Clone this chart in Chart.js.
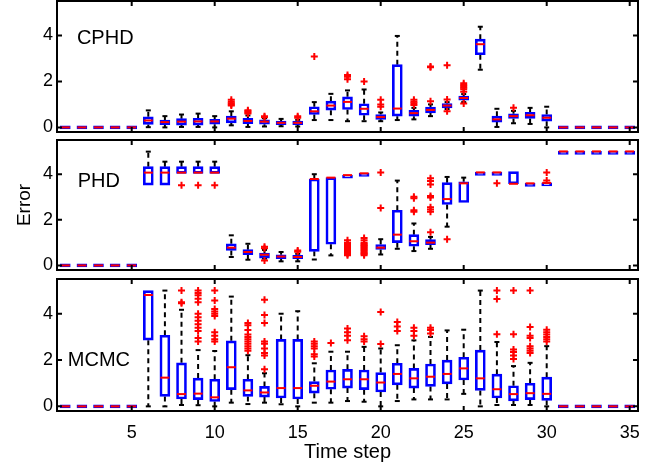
<!DOCTYPE html>
<html>
<head>
<meta charset="utf-8">
<script src="https://cdn.jsdelivr.net/npm/chart.js@4.4.0/dist/chart.umd.min.js"></script>
<style>
body { margin: 0; background: #fff; }
#wrap { position: relative; width: 658px; height: 467px; overflow: hidden; }
canvas { position: absolute; left: 0; top: 0; }
#cphd { top: -10px; }
</style>
</head>
<body>
<div id="wrap">
<canvas id="cphd" width="658" height="467"></canvas>
<canvas id="phd" width="658" height="467"></canvas>
<canvas id="mcmc" width="658" height="467"></canvas>
</div>
<script>
// time steps 1..35 and tick labels
const steps = Array.from({length: 35}, (_, i) => i + 1);
const xTicks = [5, 10, 15, 20, 25, 30, 35];
const yTicks = [0, 2, 4];

// CPHD box stats (lower whisker, q1, median, q3, upper whisker)
const cphdLo  = [0,0,0,0,0, 0.01,0,0.02,0.02,0,0.09,0.02,0.04,0.05,0.04,0.32,0.32,0.27,0.27,0.27,0.32,0.35,0.49,0.8,1.1,2.51,0.02,0.18,0.15,0, 0,0,0,0,0];
const cphdQ1  = [0,0,0,0,0, 0.13,0.12,0.1,0.1,0.14,0.2,0.16,0.14,0.12,0.12,0.56,0.75,0.78,0.53,0.35,0.49,0.49,0.63,0.85,1.18,3.16,0.23,0.39,0.39,0.27, 0,0,0,0,0];
const cphdMed = [0,0,0,0,0, 0.3,0.23,0.25,0.26,0.26,0.38,0.28,0.25,0.2,0.2,0.7,0.95,1.11,0.81,0.45,0.82,0.62,0.76,0.95,1.28,3.62,0.35,0.49,0.53,0.42, 0,0,0,0,0];
const cphdQ3  = [0,0,0,0,0, 0.46,0.32,0.38,0.4,0.35,0.49,0.39,0.33,0.28,0.28,0.9,1.14,1.33,1.03,0.56,2.73,0.74,0.88,1.04,1.36,3.84,0.49,0.59,0.66,0.56, 0,0,0,0,0];
const cphdHi  = [0,0,0,0,0, 0.74,0.49,0.56,0.6,0.49,0.7,0.52,0.4,0.37,0.33,1.1,1.46,1.61,1.65,0.65,3.98,0.85,1.0,1.1,1.45,4.38,0.81,0.72,0.85,0.9, 0,0,0,0,0];
const cphdOut = [[11,1.2],[11,1.12],[11,1.05],[11,1.0],[11,0.95],[12,0.75],[12,0.7],[12,0.65],[12,0.6],
  [13,0.49],[13,0.44],[15,0.48],[15,0.42],[16,3.08],[18,2.28],[18,2.2],[18,2.1],[19,2.0],
  [20,1.2],[20,1.0],[20,0.9],[22,1.2],[22,1.12],[22,1.05],[22,0.98],[23,2.65],[23,2.62],[23,1.14],
  [24,2.7],[24,1.21],[24,0.7],[25,1.92],[25,1.85],[25,1.78],[25,1.72],[25,1.66],[25,1.55],[25,1.04],[28,0.85]];

// PHD box stats
const phdLo  = [0,0,0,0,0, 3.52,3.52,4.04,4.04,4.04,0.37,0.25,0.3,0.18,0.18,0.26,0.44,3.96,4.04,0.48,0.73,0.63,0.73,1.7,2.76,4.08,4.08,3.58,3.6,3.62, 5,5,5,5,5];
const phdQ1  = [0,0,0,0,0, 3.52,3.52,4.04,4.04,4.04,0.66,0.47,0.32,0.3,0.3,0.62,0.93,3.96,4.04,0.7,1.0,0.84,0.91,2.67,2.76,4.08,4.08,3.58,3.6,3.62, 5,5,5,5,5];
const phdMed = [0,0,0,0,0, 4.07,4.07,4.07,4.07,4.07,0.78,0.59,0.47,0.39,0.37,3.79,3.85,3.96,4.04,0.78,1.35,1.06,1.0,2.91,3.6,4.08,4.08,3.58,3.6,3.62, 5,5,5,5,5];
const phdQ3  = [0,0,0,0,0, 4.33,4.33,4.33,4.33,4.33,0.95,0.69,0.54,0.47,0.44,3.79,3.85,3.96,4.04,0.92,2.42,1.35,1.13,3.63,3.67,4.08,4.08,4.11,3.6,3.62, 5,5,5,5,5];
const phdHi  = [0,0,0,0,0, 4.99,4.55,4.55,4.55,4.55,1.32,0.95,0.68,0.59,0.51,4.0,3.85,3.96,4.04,1.15,3.72,1.84,1.25,3.88,3.85,4.08,4.08,4.11,3.6,3.62, 5,5,5,5,5];
const phdOut = [[8,3.52],[9,3.52],[10,3.52],[13,0.82],[13,0.75],[13,0.22],[15,0.65],[15,0.6],
  [18,1.1],[18,1.0],[18,0.95],[18,0.9],[18,0.85],[18,0.8],[18,0.75],[18,0.7],[18,0.65],[18,0.6],[18,0.55],[18,0.5],[18,0.45],
  [19,1.2],[19,1.1],[19,1.0],[19,0.95],[19,0.9],[19,0.85],[19,0.8],[19,0.75],[19,0.7],[19,0.65],[19,0.6],[19,0.55],[19,0.5],[19,0.45],
  [20,4.08],[20,2.52],[22,3.01],[22,2.95],[22,2.42],[22,2.35],
  [23,3.82],[23,3.7],[23,3.55],[23,3.05],[23,2.98],[23,2.55],[23,2.45],[23,2.35],[23,1.46],
  [24,1.15],[27,3.6],[30,4.08],[30,3.72]];

// MCMC box stats
const mcmcLo  = [0,0,0,0,0, 0,0,0.06,0.05,0,0.16,0.1,0.16,0.09,0,0.16,0.16,0.23,0.2,0,0.23,0.3,0.3,0.3,0.54,0,0.06,0.06,0.06,0, 0,0,0,0,0];
const mcmcQ1  = [0,0,0,0,0, 2.86,0.43,0.32,0.29,0.21,0.72,0.43,0.4,0.36,0.32,0.57,0.74,0.79,0.72,0.62,0.93,0.79,0.86,0.97,1.14,0.69,0.36,0.24,0.29,0.26, 0,0,0,0,0];
const mcmcMed = [0,0,0,0,0, 4.81,1.24,0.53,0.55,0.39,1.69,0.69,0.6,0.79,0.79,0.89,1.07,1.17,1.17,1.03,1.4,1.21,1.28,1.4,1.64,1.21,0.74,0.53,0.57,0.54, 0,0,0,0,0];
const mcmcQ3  = [0,0,0,0,0, 5.0,3.07,1.88,1.22,1.17,2.83,1.17,0.86,2.89,2.89,1.07,1.57,1.6,1.57,1.46,1.86,1.64,1.83,2.0,2.12,2.43,1.39,0.89,1.0,1.26, 0,0,0,0,0];
const mcmcHi  = [0,0,0,0,0, 5.0,5.0,4.17,2.43,2.39,4.74,2.21,1.43,4.0,4.11,1.86,2.36,2.36,2.57,2.5,2.64,2.85,3.0,3.28,3.31,5.0,2.78,1.74,1.88,2.6, 0,0,0,0,0];
const mcmcOut = [[8,5.0],[8,4.5],[8,4.45],
  [9,5.0],[9,4.9],[9,4.8],[9,4.65],[9,4.5],[9,4.0],[9,3.85],[9,3.7],[9,3.55],[9,3.4],[9,3.25],[9,2.95],[9,2.8],
  [10,5.0],[10,4.57],[10,4.2],[10,4.1],[10,4.0],[10,3.9],[10,3.2],[10,3.05],[10,2.9],[10,2.8],
  [12,3.6],[12,3.5],[12,3.3],[12,3.1],[12,3.0],[12,2.9],[12,2.8],[12,2.7],[12,2.6],[12,2.5],[12,2.4],
  [13,4.6],[13,3.95],[13,3.6],[13,2.8],[13,2.7],[13,2.5],[13,2.3],[13,2.2],[13,1.6],
  [16,2.8],[16,2.7],[16,2.6],[16,2.5],[16,2.25],[16,2.15],[17,2.74],
  [18,3.36],[18,3.2],[18,3.05],[18,2.85],[19,3.03],[19,2.9],[19,2.8],[20,4.07],[20,2.69],
  [21,3.64],[21,3.45],[21,3.25],[22,3.4],[22,3.25],[22,3.05],[23,3.4],[23,3.3],[23,3.15],
  [27,5.0],[27,4.64],[27,3.11],[28,5.0],[28,3.11],[28,2.46],[28,2.35],[28,2.2],[28,2.05],
  [29,5.0],[29,3.43],[29,3.05],[29,2.95],[29,2.6],[29,2.5],[29,2.4],[29,2.3],
  [30,3.31],[30,3.2],[30,3.1],[30,3.0],[30,2.9],[30,2.8]];

const FONT = '"Liberation Sans", Arial, Helvetica, sans-serif';
Chart.defaults.font.family = FONT;
Chart.defaults.color = '#000';

// frame with inward ticks on all sides plus the panel name
const panelFrame = {
  id: 'panelFrame',
  afterDraw(chart, args, opts) {
    const {ctx, chartArea: a, scales: {x, y}} = chart;
    ctx.save();
    ctx.strokeStyle = '#000';
    ctx.lineWidth = 2;
    ctx.beginPath();
    xTicks.forEach(v => {
      const px = x.getPixelForValue(v);
      ctx.moveTo(px, a.bottom); ctx.lineTo(px, a.bottom - 5);
      ctx.moveTo(px, a.top); ctx.lineTo(px, a.top + 5);
    });
    yTicks.forEach(v => {
      const py = y.getPixelForValue(v);
      ctx.moveTo(a.left, py); ctx.lineTo(a.left + 5, py);
      ctx.moveTo(a.right, py); ctx.lineTo(a.right - 5, py);
    });
    ctx.stroke();
    ctx.strokeRect(a.left, a.top, a.right - a.left, a.bottom - a.top);
    ctx.fillStyle = '#000';
    ctx.font = '20px ' + FONT;
    ctx.textBaseline = 'middle';
    ctx.fillText(opts.label, x.getPixelForValue(opts.at[0]), y.getPixelForValue(opts.at[1]));
    ctx.restore();
  }
};

function boxDatasets(lo, q1, med, q3, hi, out) {
  const whisk = [], caps = [];
  steps.forEach((t, i) => {
    if (hi[i] > q3[i]) {
      whisk.push({x: t, y: q3[i]}, {x: t, y: hi[i]}, {x: t, y: null});
      caps.push({x: t, y: hi[i]});
    }
    if (lo[i] < q1[i]) {
      whisk.push({x: t, y: q1[i]}, {x: t, y: lo[i]}, {x: t, y: null});
      caps.push({x: t, y: lo[i]});
    }
  });
  return [
    { // outliers
      data: out.map(([t, v]) => ({x: t, y: v})),
      pointStyle: 'cross', pointRadius: 3.5, pointBorderWidth: 2,
      pointBorderColor: '#ff0000', pointBackgroundColor: '#ff0000'
    },
    { // medians
      data: steps.map((t, i) => ({x: t, y: med[i]})),
      pointStyle: 'line', pointRadius: 4.5, pointBorderWidth: 2, pointBorderColor: '#ff0000'
    },
    { // boxes
      type: 'bar',
      data: steps.map((t, i) => ({x: t, y: [q1[i], q3[i]]})),
      barThickness: 10, minBarLength: 3, borderWidth: 2, borderSkipped: false,
      borderColor: '#0000ff', backgroundColor: 'rgba(0,0,0,0)'
    },
    { // whisker caps
      data: caps,
      pointStyle: 'line', pointRadius: 2.5, pointBorderWidth: 2, pointBorderColor: '#000'
    },
    { // dashed whiskers
      data: whisk, showLine: true, spanGaps: false, pointRadius: 0,
      borderColor: '#000', borderWidth: 2, borderDash: [5, 4]
    }
  ];
}

function makePanel(id, label, at, sets, top, bottomPad, xHeight, showX, yTitle) {
  return new Chart(document.getElementById(id), {
    type: 'scatter',
    data: { datasets: boxDatasets(...sets) },
    options: {
      responsive: false,
      animation: false,
      events: [],
      layout: { padding: { left: 0, right: 20, top: top, bottom: bottomPad } },
      plugins: {
        legend: { display: false },
        tooltip: { enabled: false },
        panelFrame: { label: label, at: at }
      },
      scales: {
        x: {
          type: 'linear', min: 0.5, max: 35.5, offset: false,
          grid: { display: false, drawTicks: false },
          border: { display: false },
          afterBuildTicks: s => { s.ticks = xTicks.map(v => ({value: v})); },
          ticks: { display: showX, font: { size: 18 }, padding: 11, maxRotation: 0, autoSkip: false },
          title: { display: showX, text: 'Time step', font: { size: 20 }, padding: { top: 0, bottom: 3 } },
          afterFit: s => { s.height = xHeight; s.paddingLeft = 0; s.paddingRight = 0; }
        },
        y: {
          type: 'linear', min: -0.2, max: 5.5,
          grid: { display: false, drawTicks: false },
          border: { display: false },
          afterBuildTicks: s => { s.ticks = yTicks.map(v => ({value: v})); },
          ticks: { font: { size: 18 }, padding: 4 },
          title: { display: !!yTitle, text: yTitle || '', font: { size: 19 }, padding: { top: 13, bottom: 0 } },
          afterFit: s => { s.width = 57; s.paddingTop = 0; s.paddingBottom = 0; }
        }
      }
    },
    plugins: [panelFrame]
  });
}

// the top canvas sits 10px higher so its plot area can start at page y = 1
makePanel('cphd', 'CPHD', [1.7, 3.87], [cphdLo, cphdQ1, cphdMed, cphdQ3, cphdHi, cphdOut], 11, 325, 0, false, null);
makePanel('phd', 'PHD', [1.75, 3.7], [phdLo, phdQ1, phdMed, phdQ3, phdHi, phdOut], 140, 197, 0, false, 'Error');
makePanel('mcmc', 'MCMC', [1.15, 2.0], [mcmcLo, mcmcQ1, mcmcMed, mcmcQ3, mcmcHi, mcmcOut], 279, 0, 56, true, null);
</script>
</body>
</html>
